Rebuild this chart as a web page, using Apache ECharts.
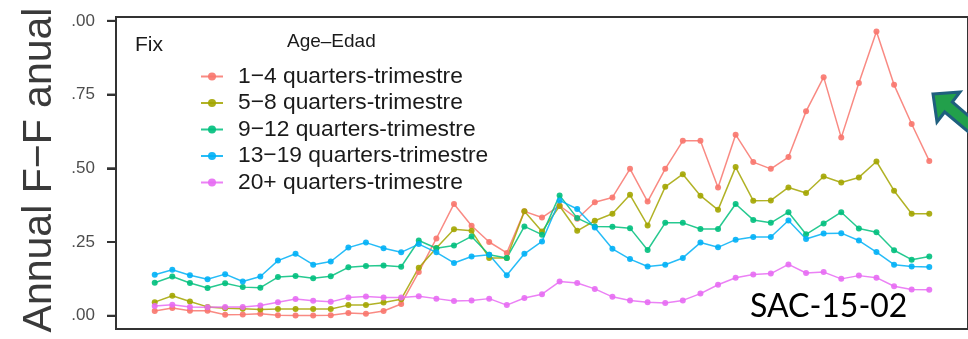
<!DOCTYPE html>
<html>
<head>
<meta charset="utf-8">
<script src="https://cdn.jsdelivr.net/npm/echarts@6/dist/echarts.min.js"></script>
<style>
  html, body { margin: 0; padding: 0; background: #ffffff; }
  #chart { width: 968px; height: 339px; }
</style>
</head>
<body>
<div id="chart"></div>
<script>
// Quarter index of each estimate
const quarters = [1, 2, 3, 4, 5, 6, 7, 8, 9, 10, 11, 12, 13, 14, 15, 16, 17, 18, 19, 20,
  21, 22, 23, 24, 25, 26, 27, 28, 29, 30, 31, 32, 33, 34, 35, 36, 37, 38, 39, 40,
  41, 42, 43, 44, 45];

// Annual fishing mortality (F) by age class
const age1to4 = [0.016, 0.026, 0.017, 0.017, 0.003, 0.004, 0.007, 0.002, 0.001, 0.001,
  0.002, 0.009, 0.007, 0.016, 0.040, 0.148, 0.262, 0.379, 0.305, 0.250,
  0.213, 0.354, 0.333, 0.373, 0.329, 0.385, 0.401, 0.498, 0.387, 0.498,
  0.593, 0.593, 0.435, 0.614, 0.521, 0.498, 0.538, 0.693, 0.809, 0.604,
  0.789, 0.964, 0.783, 0.650, 0.525];
const age5to8 = [0.046, 0.068, 0.048, 0.030, 0.025, 0.024, 0.021, 0.023, 0.023, 0.023,
  0.023, 0.036, 0.036, 0.045, 0.056, 0.163, 0.230, 0.293, 0.288, 0.196,
  0.196, 0.354, 0.286, 0.372, 0.288, 0.322, 0.346, 0.410, 0.306, 0.437,
  0.480, 0.407, 0.359, 0.504, 0.390, 0.391, 0.435, 0.416, 0.472, 0.452,
  0.469, 0.523, 0.424, 0.346, 0.346];
const age9to12 = [0.112, 0.133, 0.111, 0.094, 0.110, 0.097, 0.095, 0.131, 0.135, 0.127,
  0.134, 0.164, 0.169, 0.170, 0.166, 0.255, 0.229, 0.238, 0.269, 0.207,
  0.196, 0.303, 0.275, 0.408, 0.331, 0.303, 0.302, 0.297, 0.223, 0.315,
  0.315, 0.294, 0.294, 0.379, 0.325, 0.315, 0.351, 0.276, 0.313, 0.351,
  0.296, 0.283, 0.222, 0.190, 0.201];
const age13to19 = [0.139, 0.156, 0.137, 0.124, 0.141, 0.116, 0.133, 0.187, 0.210, 0.173,
  0.184, 0.231, 0.248, 0.229, 0.215, 0.243, 0.215, 0.179, 0.201, 0.207,
  0.137, 0.210, 0.252, 0.391, 0.362, 0.299, 0.227, 0.192, 0.167, 0.173,
  0.196, 0.248, 0.232, 0.258, 0.267, 0.267, 0.323, 0.260, 0.279, 0.280,
  0.255, 0.216, 0.173, 0.167, 0.165];
const age20plus = [0.033, 0.037, 0.030, 0.029, 0.030, 0.030, 0.035, 0.046, 0.057, 0.051,
  0.047, 0.062, 0.065, 0.062, 0.062, 0.066, 0.058, 0.050, 0.052, 0.058,
  0.036, 0.060, 0.073, 0.116, 0.111, 0.091, 0.064, 0.052, 0.046, 0.043,
  0.052, 0.075, 0.105, 0.129, 0.140, 0.143, 0.174, 0.145, 0.148, 0.125,
  0.136, 0.129, 0.100, 0.089, 0.088];

const seriesNames = [
  '1\u22124 quarters-trimestre',
  '5\u22128 quarters-trimestre',
  '9\u221212 quarters-trimestre',
  '13\u221219 quarters-trimestre',
  '20+ quarters-trimestre'
];
const seriesValues = [age1to4, age5to8, age9to12, age13to19, age20plus];
const seriesColors = ['#F8766D', '#A3A500', '#00BF7D', '#00B0F6', '#E76BF3'];
const yTicks = [0, 0.25, 0.5, 0.75, 1.0];

const FONT = '"Liberation Sans", Arial, Helvetica, sans-serif';

// Plot panel and its padded value range
const PANEL = { left: 116, top: 17, width: 856, height: 312 };
const Y_MIN = -0.045, Y_MAX = 1.013;
const PX_PER_UNIT = PANEL.height / (Y_MAX - Y_MIN);
// Companion grid spanning exactly the labelled range, so that its axis ticks
// fall on round values (ticks counted from min = 0)
const TICK_GRID = {
  left: PANEL.left, width: PANEL.width,
  top: PANEL.top + (Y_MAX - yTicks[yTicks.length - 1]) * PX_PER_UNIT,
  height: (yTicks[yTicks.length - 1] - yTicks[0]) * PX_PER_UNIT
};
const TICK_LEN = 9;

const chart = echarts.init(document.getElementById('chart'), null, { renderer: 'canvas' });

const series = seriesValues.map(function (vals, k) {
  return {
    name: seriesNames[k],
    type: 'line',
    xAxisIndex: 0, yAxisIndex: 0,
    data: vals.map(function (v, i) { return [quarters[i], v]; }),
    symbol: 'circle',
    symbolSize: 6,
    color: seriesColors[k],
    lineStyle: { width: 1.5, opacity: 0.85 },
    itemStyle: { opacity: 0.9 },
    emphasis: { disabled: true },
    animation: false
  };
});

// Outward tick marks beside the panel frame at the labelled values
const tickMarks = yTicks.map(function (v) {
  const py = TICK_GRID.top + (yTicks[yTicks.length - 1] - v) * PX_PER_UNIT;
  return {
    type: 'rect', z: 110,
    shape: { x: PANEL.left - TICK_LEN, y: py - 1, width: TICK_LEN, height: 2 },
    style: { fill: '#333333' }
  };
});

chart.setOption({
  backgroundColor: '#ffffff',
  animation: false,
  grid: [
    Object.assign({ show: true, borderColor: '#333333', borderWidth: 2, backgroundColor: 'transparent' }, PANEL),
    Object.assign({ show: false }, TICK_GRID)
  ],
  xAxis: [
    {
      gridIndex: 0, type: 'value', min: -1.2, max: 47.2,
      axisLine: { show: false, onZero: false }, axisTick: { show: false },
      axisLabel: { show: false }, splitLine: { show: false }
    },
    {
      gridIndex: 1, type: 'value', min: -1.2, max: 47.2, show: false,
      axisLine: { onZero: false }
    }
  ],
  yAxis: [
    {
      gridIndex: 0, type: 'value', min: Y_MIN, max: Y_MAX,
      axisLine: { show: false, onZero: false }, axisTick: { show: false },
      axisLabel: { show: false }, splitLine: { show: false }
    },
    {
      gridIndex: 1, type: 'value',
      min: yTicks[0], max: yTicks[yTicks.length - 1], interval: yTicks[1] - yTicks[0],
      axisLine: { show: true, onZero: false, lineStyle: { color: '#333333', width: 2 } },
      splitLine: { show: false },
      axisTick: { show: true, inside: false, length: TICK_LEN, lineStyle: { color: '#333333', width: 2 } },
      axisLabel: {
        show: true, margin: 21,
        color: '#4d4d4d', fontSize: 17, fontFamily: FONT,
        formatter: function (v) { return v.toFixed(2); }
      }
    }
  ],
  legend: {
    orient: 'vertical',
    left: 195, top: 60,
    itemWidth: 22, itemHeight: 10, itemGap: 3.5,
    data: seriesNames,
    textStyle: {
      color: '#1a1a1a', fontSize: 22.8, lineHeight: 22.8, fontFamily: FONT,
      padding: [0, 0, 0, 10]
    },
    selectedMode: false
  },
  graphic: [
    {
      // crops the leading digit of the tick labels
      type: 'rect', z: 100,
      shape: { x: 58, y: 8, width: 13, height: 326 },
      style: { fill: '#ffffff' }
    },
    {
      type: 'text', z: 101,
      x: 60, y: 170, rotation: Math.PI / 2,
      style: {
        text: 'Annual F\u2212F anual', font: '41px ' + FONT, fill: '#3a3a3a',
        textAlign: 'center', textVerticalAlign: 'bottom'
      }
    },
    {
      type: 'text', z: 101, x: 135, y: 35,
      style: { text: 'Fix', font: '21px ' + FONT, fill: '#1a1a1a', textVerticalAlign: 'top' }
    },
    {
      type: 'text', z: 101, x: 287, y: 32,
      style: { text: 'Age\u2013Edad', font: '19px ' + FONT, fill: '#1a1a1a', textVerticalAlign: 'top' }
    },
    {
      type: 'text', z: 101, x: 750, y: 291,
      style: { text: 'SAC-15-02', font: '32px Lato, "Open Sans", sans-serif', fill: '#000000', textVerticalAlign: 'top' }
    },
    {
      // annotation arrow
      type: 'polygon', z: 102,
      shape: {
        points: [[933, 94], [960, 92], [952.3, 102], [997, 140], [990, 150], [944.7, 112], [937, 122]]
      },
      style: { fill: '#22A04B', stroke: '#1F5F7E', lineWidth: 3, lineJoin: 'miter' }
    }
  ].concat(tickMarks),
  series: series
});
</script>
</body>
</html>
